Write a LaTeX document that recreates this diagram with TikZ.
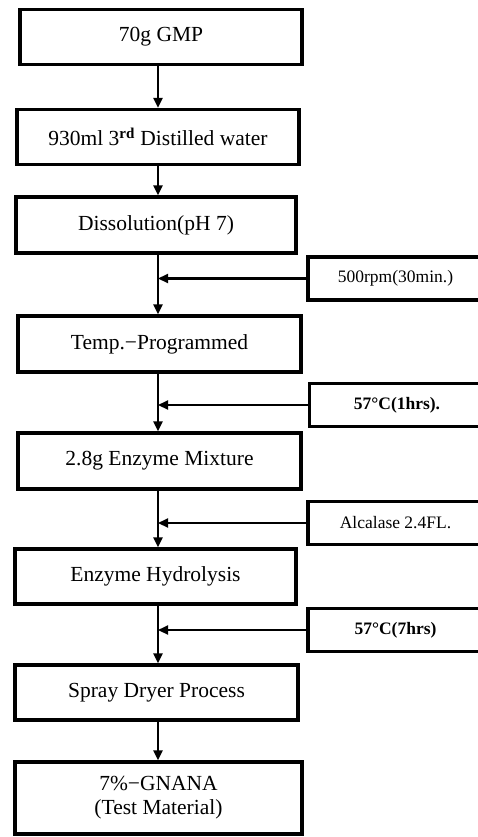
\documentclass[tikz,border=0pt]{standalone}
\usepackage{fontspec}
\setmainfont{Liberation Serif}
\usetikzlibrary{arrows.meta}
\begin{document}
\begin{tikzpicture}[x=1pt,y=-1pt,
  mainbox/.style={draw,line width=3.3pt,minimum height=55pt,inner sep=0pt,font=\fontsize{21.5}{24}\selectfont,align=center},
  sidebox/.style={draw,line width=3.3pt,minimum width=175pt,minimum height=43pt,inner sep=0pt,font=\fontsize{17.5}{20}\selectfont},
  arr/.style={line width=2.2pt,-{Triangle[length=10pt,width=9pt]}}]
\useasboundingbox (0,0) rectangle (478,837);
\clip (0,0) rectangle (478,837);
\coordinate (spine) at (158,0);
\node[mainbox,minimum width=282pt] (b1) at (161,37) {70g GMP};
\node[mainbox,minimum width=282pt] (b2) at (158,137) {930ml 3\textsuperscript{\textbf{rd}} Distilled water};
\node[mainbox,minimum width=280pt,minimum height=56pt] (b3) at (156,225) {Dissolution(pH 7)};
\node[mainbox,minimum width=283pt,minimum height=56pt] (b4) at (159.5,344) {Temp.−Programmed};
\node[mainbox,minimum width=283pt,minimum height=56pt] (b5) at (159.5,461) {2.8g Enzyme Mixture};
\node[mainbox,minimum width=281pt] (b6) at (155.5,576.5) {Enzyme Hydrolysis};
\node[mainbox,minimum width=283pt] (b7) at (156.5,692.5) {Spray Dryer Process};
\node[mainbox,minimum width=287pt,minimum height=72pt] (b8) at (158.5,798) {7\%−GNANA\\(Test Material)};
\node[sidebox] (s1) at (395.5,278.5) {500rpm(30min.)};
\node[sidebox,font=\fontsize{17.5}{20}\selectfont\bfseries] (s2) at (397,405) {57\textdegree C(1hrs).};
\node[sidebox] (s3) at (395.5,523) {Alcalase 2.4FL.};
\node[sidebox,font=\fontsize{17.5}{20}\selectfont\bfseries] (s4) at (395.5,630) {57\textdegree C(7hrs)};
\foreach \a/\b in {b1/b2,b2/b3,b3/b4,b4/b5,b5/b6,b6/b7,b7/b8}
  \draw[arr] (\a.south -| spine) -- (\b.north -| spine);
\foreach \s in {s1,s2,s3,s4}
  \draw[arr] (\s.west) -- (\s.west -| spine);
\end{tikzpicture}
\end{document}
